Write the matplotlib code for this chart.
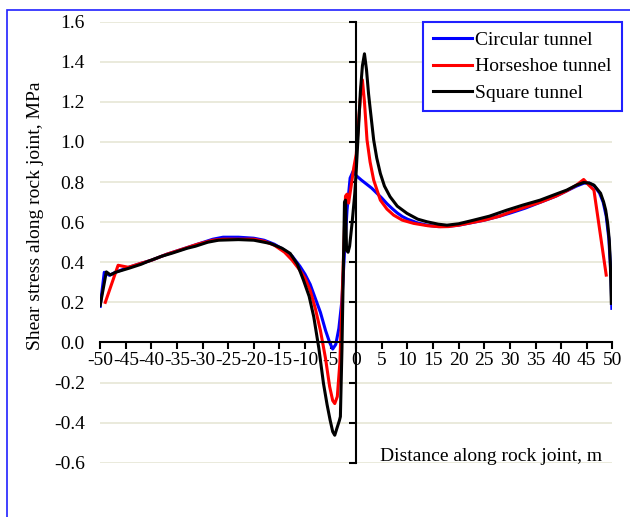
import matplotlib
matplotlib.use("Agg")
import matplotlib.pyplot as plt
from matplotlib.patches import Rectangle

plt.rcParams['font.family'] = ['Liberation Serif', 'DejaVu Serif']
plt.rcParams['font.size'] = 14
plt.rcParams['axes.unicode_minus'] = False

# circular tunnel
x_circ = [-50, -49.2, -48.2, -47, -45, -42, -40, -37, -34, -31, -28, -26, -23, -20, -18,
          -16, -14, -12.5, -11, -10, -9, -8, -7, -6, -5.2, -4.6, -4.0, -3.4, -2.8, -2.3,
          -1.8, -1.2, -0.6, 0, 1, 2, 3, 4, 5, 6, 7, 8, 9, 10, 12, 14, 16, 18, 20, 22, 25,
          28, 30, 33, 36, 39, 41, 43, 44.5, 45.5, 46.5, 47.5, 48.2, 48.8, 49.3, 49.7, 49.9]
y_circ = [0.18, 0.35, 0.335, 0.35, 0.37, 0.395, 0.41, 0.44, 0.465, 0.49, 0.515, 0.525,
          0.525, 0.52, 0.51, 0.49, 0.46, 0.43, 0.38, 0.34, 0.29, 0.22, 0.15, 0.06, 0.0,
          -0.033, -0.01, 0.07, 0.21, 0.45, 0.66, 0.82, 0.855, 0.832, 0.81, 0.79, 0.77,
          0.745, 0.72, 0.692, 0.668, 0.646, 0.628, 0.615, 0.596, 0.584, 0.578, 0.58, 0.585,
          0.595, 0.61, 0.63, 0.645, 0.67, 0.7, 0.73, 0.755, 0.78, 0.795, 0.795, 0.78,
          0.745, 0.7, 0.63, 0.52, 0.35, 0.17]

# horseshoe tunnel
x_horse = [-49, -46.5, -44.5, -42, -40, -37, -34, -31, -28, -26, -23, -20, -18, -16, -14,
           -12.5, -11, -10, -9, -8, -7, -6, -5.2, -4.6, -4.2, -3.7, -3.2, -2.8, -2.4, -2.1,
           -1.8, -1.5, -1, -0.5, 0, 0.5, 1.0, 1.2, 1.6, 2.1, 2.7, 3.4, 4.7, 6, 7.3, 9,
           11.2, 14, 16.4, 18, 20, 22, 25, 28, 30, 33, 36, 39, 41, 43, 44.4, 45.4, 46.4,
           48.8]
y_horse = [0.2, 0.385, 0.375, 0.395, 0.41, 0.44, 0.465, 0.49, 0.51, 0.515, 0.515, 0.515,
           0.505, 0.485, 0.45, 0.41, 0.36, 0.32, 0.26, 0.17, 0.06, -0.08, -0.22, -0.29,
           -0.305, -0.27, -0.1, 0.2, 0.5, 0.73, 0.74, 0.695, 0.78, 0.87, 0.94, 1.12, 1.28,
           1.31, 1.2, 1.01, 0.9, 0.81, 0.71, 0.665, 0.635, 0.61, 0.594, 0.582, 0.577,
           0.578, 0.585, 0.595, 0.61, 0.63, 0.65, 0.675, 0.7, 0.73, 0.755, 0.785, 0.813,
           0.785, 0.76, 0.336]

# square tunnel
x_sq = [-50, -48.8, -48, -47, -44.4, -42, -40.6, -38, -36, -33, -31.4, -29, -26.9, -23,
        -20, -18, -16.8, -14.5, -12.9, -11.5, -10.3, -9.2, -8.3, -7.3, -6.4, -5.7, -5.1,
        -4.6, -4.2, -3.8, -3.3, -3.1, -2.8, -2.5, -2.3, -2.1, -1.9, -1.6, -1.3, -0.8,
        -0.3, 0, 0.4, 0.8, 1.2, 1.6, 2.0, 2.4, 2.7, 3.4, 4.0, 4.7, 5.5, 6.6, 8, 9.9, 12,
        13.8, 16, 17.7, 20, 22.9, 26, 29.4, 32.5, 35.9, 39, 41.1, 43, 44.4, 45.5, 46.4,
        47.2, 47.7, 48.3, 48.7, 49.1, 49.4, 49.6, 49.8]
y_sq = [0.185, 0.352, 0.337, 0.35, 0.37, 0.39, 0.405, 0.43, 0.445, 0.47, 0.48, 0.5, 0.51,
        0.513, 0.51, 0.5, 0.494, 0.47, 0.444, 0.39, 0.31, 0.23, 0.128, -0.03, -0.205,
        -0.31, -0.388, -0.445, -0.463, -0.43, -0.39, -0.37, -0.04, 0.4, 0.70, 0.71, 0.46,
        0.45, 0.48, 0.6, 0.74, 0.86, 1.05, 1.25, 1.38, 1.44, 1.36, 1.24, 1.17, 1.01, 0.92,
        0.843, 0.78, 0.727, 0.68, 0.644, 0.615, 0.602, 0.59, 0.585, 0.592, 0.61, 0.63,
        0.66, 0.685, 0.71, 0.74, 0.76, 0.785, 0.798, 0.795, 0.785, 0.76, 0.744, 0.70,
        0.66, 0.59, 0.51, 0.4, 0.195]

x_ticks = list(range(-50, 55, 5))
y_ticks = [-0.6, -0.4, -0.2, 0.0, 0.2, 0.4, 0.6, 0.8, 1.0, 1.2, 1.4, 1.6]

fig = plt.figure(figsize=(6.3, 5.17), dpi=100)
ax = fig.add_axes([0.159, 0.105, 0.813, 0.853])

ax.plot(x_circ, y_circ, color='#0000ff', lw=2.2, label='Circular tunnel')
ax.plot(x_horse, y_horse, color='#ff0000', lw=2.2, label='Horseshoe tunnel')
ax.plot(x_sq, y_sq, color='black', lw=2.2, label='Square tunnel')

ax.set_xlim(-50, 50)
ax.set_ylim(-0.6, 1.6)
ax.set_xticks(x_ticks)
ax.set_yticks(y_ticks)
ax.yaxis.grid(True, color='#e6e6d6', lw=1.2)
ax.set_axisbelow(True)

for side in ['top', 'right']:
    ax.spines[side].set_visible(False)
ax.spines['left'].set_position(('data', 0))
ax.spines['bottom'].set_position(('data', 0))
ax.spines['left'].set_linewidth(1.5)
ax.spines['bottom'].set_linewidth(1.5)
ax.tick_params(axis='x', direction='out', length=5, width=1.5, pad=2)
ax.tick_params(axis='y', direction='out', length=5, width=1.5, labelleft=False)

# value labels sit at the left edge, away from the centre axis
sec = ax.secondary_yaxis('left')
sec.set_yticks(y_ticks)
sec.set_yticklabels(['%.1f' % v for v in y_ticks])
sec.spines['left'].set_visible(False)
sec.tick_params(axis='y', length=0, pad=11)

ax.set_ylabel('Shear stress along rock joint, MPa')
ax.yaxis.set_label_coords(-0.109, 0.561)
ax.text(0.763, 0.013, 'Distance along rock joint, m', transform=ax.transAxes,
        ha='center', va='center')

leg = ax.legend(loc='upper right', bbox_to_anchor=(1.018, 1.0), borderaxespad=0,
                fancybox=False, framealpha=1, handlelength=2.0, handletextpad=0.2,
                labelspacing=0.45, borderpad=0.5)
leg.get_frame().set_edgecolor('#2020ff')
leg.get_frame().set_linewidth(1.5)

fig.patches.append(Rectangle((0.011, -0.05), 1.1, 0.05 + 1 - 10 / 517,
                             transform=fig.transFigure, fill=False,
                             edgecolor='#2020ff', lw=1.2))

fig.savefig('out.png', dpi=100)
